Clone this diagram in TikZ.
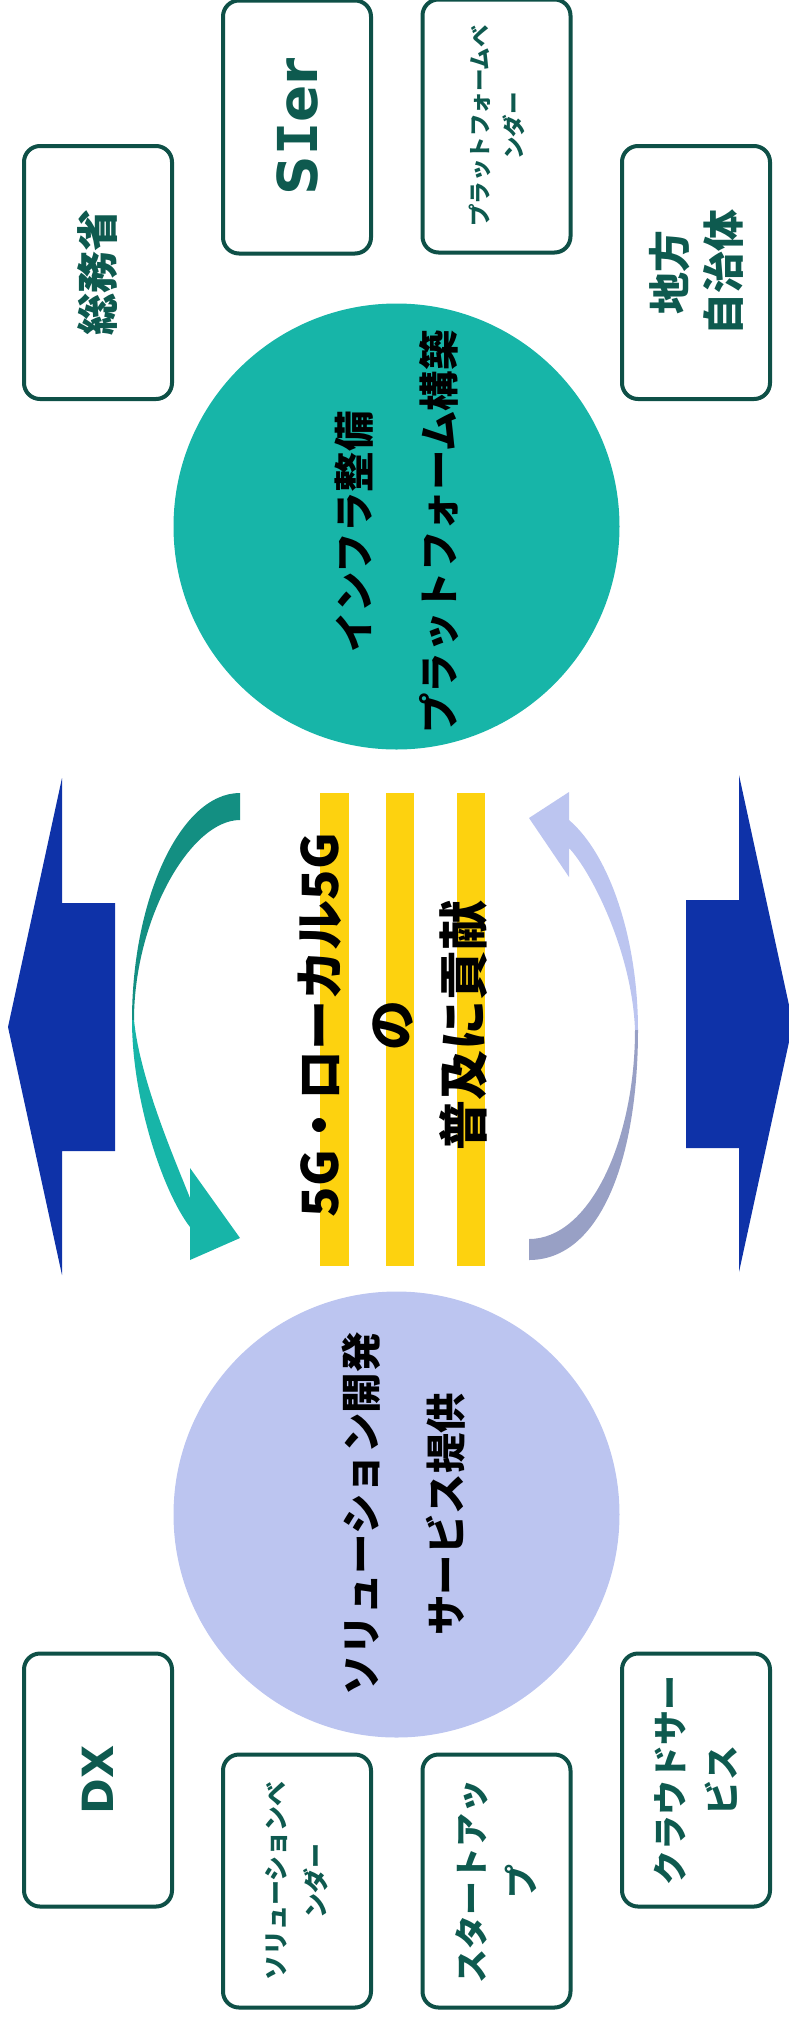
\documentclass[tikz,border=0pt]{standalone}
\usepackage{fontspec}
\setmainfont{Noto Sans CJK JP}
\newfontfamily\latinb{DejaVu Sans}
\newfontfamily\monob{DejaVu Sans Mono}
\usetikzlibrary{shadows}
\definecolor{boxgreen}{HTML}{0E5047}
\definecolor{txtgreen}{HTML}{0E5A4F}
\definecolor{circgreen}{HTML}{17B5A8}
\definecolor{circlav}{HTML}{BCC5F0}
\definecolor{arrblue}{HTML}{0E32A8}
\definecolor{baryellow}{HTML}{FDD20F}
\definecolor{tealdark}{HTML}{138F82}
\definecolor{teallight}{HTML}{17B5A8}
\definecolor{lavtop}{HTML}{BCC5F0}
\definecolor{lavbot}{HTML}{98A0C5}
\begin{document}
\begin{tikzpicture}[x=1pt,y=-1pt,
  actor/.style={draw=boxgreen, line width=4pt, fill=white, rounded corners=16pt,
    minimum width=148pt, minimum height=253pt, inner sep=0pt,
    drop shadow={shadow xshift=0.8pt, shadow yshift=-1.6pt, opacity=0.4, fill=black}},
  actortext/.style={rotate=90, align=center, text=txtgreen, inner sep=0pt},
  bigcirc/.style={circle, minimum size=446pt, inner sep=0pt},
  circtext/.style={rotate=90, align=center, text=black, inner sep=0pt,
    font=\fontsize{40.5}{85}\selectfont\bfseries},
  ybar/.style={fill=baryellow, minimum width=28.5pt, minimum height=473pt, inner sep=0pt}
]
\useasboundingbox (0,0) rectangle (789,2022);
\clip (0,0) rectangle (789,2022);

% top boxes
\node[actor] (b1) at (98,272.5) {};
\node[actortext, font=\fontsize{42}{54}\selectfont\bfseries] (t1) at (b1) {総務省};
\node[actor] (b2) at (297,127) {};
\node[actortext, font=\latinb\fontsize{55}{60}\selectfont\bfseries] (t2) at (b2) {S{\monob\bfseries I}er};
\node[actor] (b3) at (496.5,126) {};
\node[actortext, font=\fontsize{22.5}{34}\selectfont\bfseries] (t3) at (b3) {プラットフォームベ\\ンダー};
\node[actor] (b4) at (696,272.5) {};
\node[actortext, font=\fontsize{42}{54}\selectfont\bfseries] (t4) at (b4) {地方\\自治体};

% bottom boxes
\node[actor] (b5) at (98,1780) {};
\node[actortext, font=\latinb\fontsize{43}{50}\selectfont\bfseries] (t5) at (b5) {DX};
\node[actor] (b6) at (297,1881) {};
\node[actortext, font=\fontsize{25}{40}\selectfont\bfseries] (t6) at (b6) {ソリューションベ\\ンダー};
\node[actor] (b7) at (496.5,1881) {};
\node[actortext, font=\fontsize{34}{50}\selectfont\bfseries] (t7) at (b7) {スタートアッ\\プ};
\node[actor] (b8) at (696,1780) {};
\node[actortext, font=\fontsize{35}{52}\selectfont\bfseries] (t8) at (b8) {クラウドサー\\ビス};

% circles
\node[bigcirc, fill=circgreen] (c1) at (396.5,526.5) {};
\node[circtext] (ct1) at (396.5,532) {インフラ整備\\プラットフォーム構築};
\node[bigcirc, fill=circlav] (c2) at (396.5,1514.5) {};
\node[circtext] (ct2) at (404,1514) {ソリューション開発\\サービス提供};

% big blue arrows
\fill[arrblue] (8,1027) -- (62,778) -- (62,903) -- (115,903) -- (115,1151) -- (62,1151) -- (62,1275) -- cycle;
\fill[arrblue] (793,1023.5) -- (739,775) -- (739,900) -- (686,900) -- (686,1148) -- (739,1148) -- (739,1272) -- cycle;

% curved arrow left (teal)
\fill[tealdark] (240,793) .. controls (180,793) and (132,900) .. (132,1020)
  -- (134,1020) .. controls (134,920) and (190,820) .. (240,820) -- cycle;
\fill[teallight] (132,1020) .. controls (132,1100) and (163,1192) .. (190,1227)
  -- (190,1260) -- (240,1238) -- (190,1168) -- (190,1198)
  .. controls (175,1160) and (140,1080) .. (134,1020) -- cycle;

% curved arrow right (lavender)
\fill[lavtop] (529,818) -- (569,792) -- (569,820)
  .. controls (610,855) and (638,940) .. (638,1030)
  -- (635,1030) .. controls (632,950) and (590,870) .. (569,848)
  -- (569,877) -- cycle;
\fill[lavbot] (638,1030) .. controls (638,1160) and (600,1260) .. (529,1260)
  -- (529,1239) .. controls (590,1239) and (635,1140) .. (635,1030) -- cycle;

% yellow bars
\node[ybar] (y1) at (334.25,1029.5) {};
\node[ybar] (y2) at (400,1029.5) {};
\node[ybar] (y3) at (471,1029.5) {};

% central text
\node[rotate=90, align=center, inner sep=0pt, font=\fontsize{50}{72}\selectfont\bfseries] (mid) at (393,1025) {5G・ローカル5G\\の\\普及に貢献};
\end{tikzpicture}
\end{document}
